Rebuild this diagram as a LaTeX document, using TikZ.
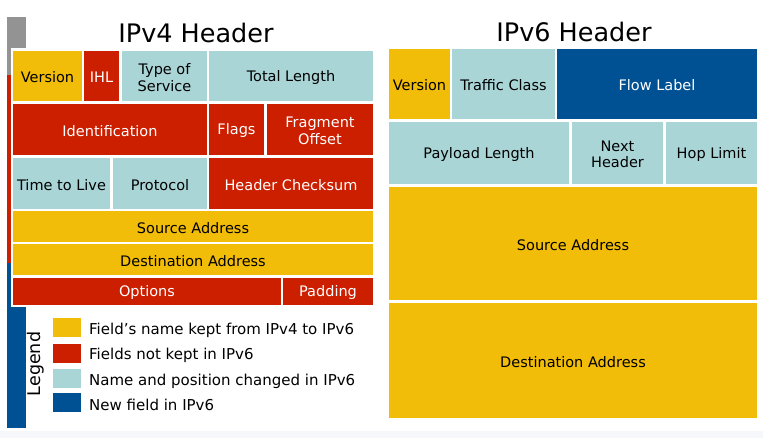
\documentclass[tikz,border=0pt]{standalone}
\usepackage{fontspec}
\setmainfont{DejaVu Sans}
\definecolor{keptY}{HTML}{F2BD08}
\definecolor{goneR}{HTML}{CC1F00}
\definecolor{movedT}{HTML}{A9D5D7}
\definecolor{newB}{HTML}{005193}
\definecolor{barG}{HTML}{939393}
\definecolor{floorC}{HTML}{F6F7FA}
\tikzset{
  kept/.style={fill=keptY},
  gone/.style={fill=goneR},
  moved/.style={fill=movedT},
  newf/.style={fill=newB},
  darktxt/.style={text=black},
  lighttxt/.style={text=white},
  fieldtxt/.style={font=\fontsize{14.5}{16.5}\selectfont, align=center, inner sep=0pt, yshift=-1.5pt},
  headtitle/.style={font=\fontsize{25.5}{30}\selectfont, inner sep=0pt},
  legtxt/.style={font=\fontsize{15}{18}\selectfont, anchor=west, inner sep=0pt, yshift=-1.5pt},
}
% \fieldbox{name}{x1}{y1}{x2}{y2}{fill style}{text style}{label}
\newcommand\fieldbox[8]{%
  \path[#6] (#2,#3) rectangle (#4,#5);
  \node[fieldtxt,#7] (#1) at ({(#2+#4)/2},{(#3+#5)/2}) {#8};
}
\begin{document}
\begin{tikzpicture}[x=1pt,y=-1pt]
\useasboundingbox (0,0) rectangle (763,438);
\fill[white] (0,0) rectangle (763,438);
\fill[floorC] (0,431) rectangle (763,438);

% side bar behind the IPv4 panel
\fill[barG] (7,17) rectangle (26,75);
\fill[goneR] (7,75) rectangle (26,263);
\fill[newB] (7,263) rectangle (26,428);
\fill[white] (11,48) rectangle (375,307);

% titles
\node[headtitle] (t4) at (196,32.5) {IPv4 Header};
\node[headtitle] (t6) at (574,31.5) {IPv6 Header};

% IPv4 header fields
\fieldbox{v4ver}{13}{51}{82}{101}{kept}{darktxt}{Version}
\fieldbox{v4ihl}{84}{51}{119}{101}{gone}{lighttxt}{IHL}
\fieldbox{v4tos}{122}{51}{207}{101}{moved}{darktxt}{Type of\\Service}
\fieldbox{v4len}{209}{51}{373}{101}{moved}{darktxt}{Total Length}
\fieldbox{v4id}{13}{104}{207}{155}{gone}{lighttxt}{Identification}
\fieldbox{v4flg}{209}{104}{264}{155}{gone}{lighttxt}{Flags}
\fieldbox{v4frag}{267}{104}{373}{155}{gone}{lighttxt}{Fragment\\Offset}
\fieldbox{v4ttl}{13}{158}{110}{209}{moved}{darktxt}{Time to Live}
\fieldbox{v4pro}{113}{158}{207}{209}{moved}{darktxt}{Protocol}
\fieldbox{v4chk}{209}{158}{373}{209}{gone}{lighttxt}{Header Checksum}
\fieldbox{v4src}{13}{211}{373}{242}{kept}{darktxt}{Source Address}
\fieldbox{v4dst}{13}{244}{373}{275}{kept}{darktxt}{Destination Address}
\fieldbox{v4opt}{13}{278}{281}{305}{gone}{lighttxt}{Options}
\fieldbox{v4pad}{283}{278}{373}{305}{gone}{lighttxt}{Padding}

% IPv6 header fields
\fieldbox{v6ver}{389}{49}{450}{119}{kept}{darktxt}{Version}
\fieldbox{v6tc}{452}{49}{555}{119}{moved}{darktxt}{Traffic Class}
\fieldbox{v6fl}{557}{49}{757}{119}{newf}{lighttxt}{Flow Label}
\fieldbox{v6pl}{389}{122}{569}{184}{moved}{darktxt}{Payload Length}
\fieldbox{v6nh}{572}{122}{663}{184}{moved}{darktxt}{Next\\Header}
\fieldbox{v6hl}{666}{122}{757}{184}{moved}{darktxt}{Hop Limit}
\fieldbox{v6src}{389}{187}{757}{300}{kept}{darktxt}{Source Address}
\fieldbox{v6dst}{389}{303}{757}{418}{kept}{darktxt}{Destination Address}

% legend
\node[font=\fontsize{17.5}{20}\selectfont, rotate=90, inner sep=0pt] (leg) at (35.5,364) {Legend};
\fill[keptY] (53,318) rectangle (81,337);
\fill[goneR] (53,344) rectangle (81,363);
\fill[movedT] (53,369) rectangle (81,388);
\fill[newB] (53,393) rectangle (81,412);
\node[legtxt] (l1) at (89,328.5) {Field’s name kept from IPv4 to IPv6};
\node[legtxt] (l2) at (89,354) {Fields not kept in IPv6};
\node[legtxt] (l3) at (89,379.5) {Name and position changed in IPv6};
\node[legtxt] (l4) at (89,403.5) {New field in IPv6};
\end{tikzpicture}
\end{document}
